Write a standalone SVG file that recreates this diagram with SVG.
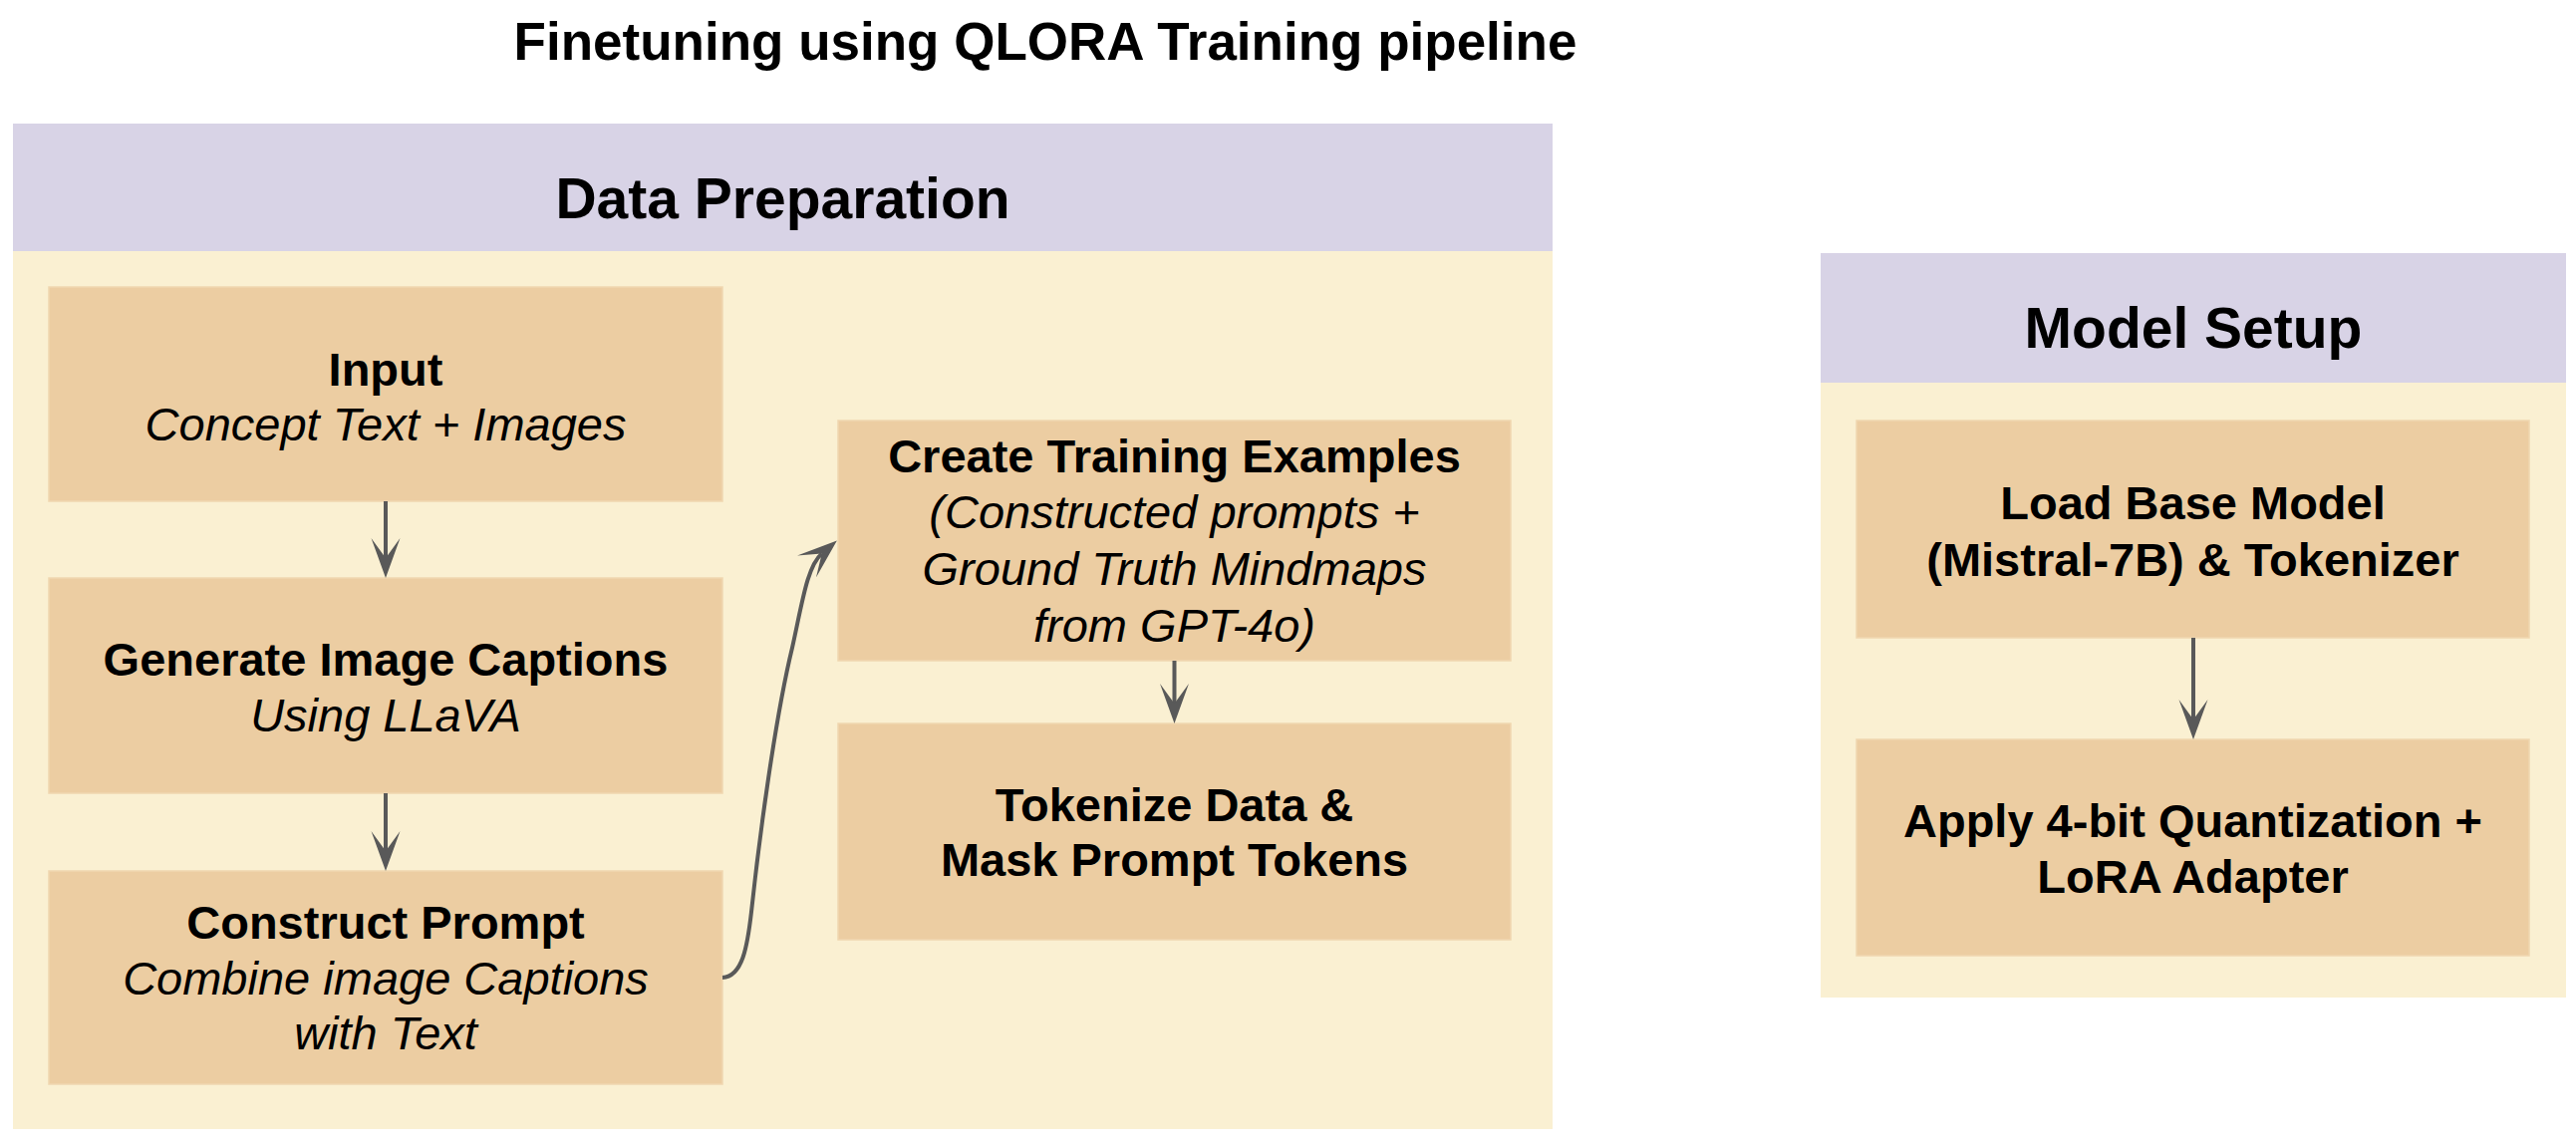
<svg xmlns="http://www.w3.org/2000/svg" width="2585" height="1150" viewBox="0 0 2585 1150">
  <style>
    .t { font-family: "Liberation Sans", Arial, sans-serif; fill: #000; text-anchor: middle; }
    .b { font-weight: bold; }
    .i { font-style: italic; }
    .title { font-size: 53px; }
    .hdr { font-size: 57px; }
    .n { font-size: 47px; }
    .header { fill: #d8d3e6; }
    .body { fill: #faf0d2; }
    .node { fill: #eccda2; stroke: #f0d6b0; stroke-width: 1.5; }
    .edge { fill: none; stroke: #595959; stroke-width: 4; }
  </style>
  <defs>
    <marker id="arr" markerUnits="userSpaceOnUse" viewBox="0 0 40 30" markerWidth="40" markerHeight="30" refX="20" refY="15" orient="auto">
      <path d="M0,0.5 L40,15 L0,29.5 L20,15 Z" fill="#595959"/>
    </marker>
  </defs>
  <rect width="2585" height="1150" fill="#ffffff"/>

  <text class="t b title" x="1049" y="60">Finetuning using QLORA Training pipeline</text>

  <g id="data-preparation">
    <rect class="body" x="13" y="124" width="1545" height="1009"/>
    <rect class="header" x="13" y="124" width="1545" height="128"/>
    <text class="t b hdr" x="785.5" y="219">Data Preparation</text>
  </g>

  <g id="model-setup">
    <rect class="body" x="1827" y="254" width="748" height="747"/>
    <rect class="header" x="1827" y="254" width="748" height="130"/>
    <text class="t b hdr" x="2201" y="349">Model Setup</text>
  </g>

  <g id="input">
    <rect class="node" x="49" y="288" width="676" height="215"/>
    <text class="t b n" x="387" y="387">Input</text>
    <text class="t i n" x="387" y="442">Concept Text + Images</text>
  </g>

  <g id="generate-captions">
    <rect class="node" x="49" y="580" width="676" height="216"/>
    <text class="t b n" x="387" y="678">Generate Image Captions</text>
    <text class="t i n" x="387" y="734">Using LLaVA</text>
  </g>

  <g id="construct-prompt">
    <rect class="node" x="49" y="874" width="676" height="214"/>
    <text class="t b n" x="387" y="942">Construct Prompt</text>
    <text class="t i n" x="387" y="998">Combine image Captions</text>
    <text class="t i n" x="387" y="1053">with Text</text>
  </g>

  <g id="create-examples">
    <rect class="node" x="841" y="422" width="675" height="241"/>
    <text class="t b n" x="1178.5" y="474">Create Training Examples</text>
    <text class="t i n" x="1178.5" y="530">(Constructed prompts +</text>
    <text class="t i n" x="1178.5" y="587">Ground Truth Mindmaps</text>
    <text class="t i n" x="1178.5" y="644">from GPT-4o)</text>
  </g>

  <g id="tokenize">
    <rect class="node" x="841" y="726" width="675" height="217"/>
    <text class="t b n" x="1178.5" y="824">Tokenize Data &amp;</text>
    <text class="t b n" x="1178.5" y="879">Mask Prompt Tokens</text>
  </g>

  <g id="load-model">
    <rect class="node" x="1863" y="422" width="675" height="218"/>
    <text class="t b n" x="2200.5" y="521">Load Base Model</text>
    <text class="t b n" x="2200.5" y="578">(Mistral-7B) &amp; Tokenizer</text>
  </g>

  <g id="apply-quantization">
    <rect class="node" x="1863" y="742" width="675" height="217"/>
    <text class="t b n" x="2200.5" y="840">Apply 4-bit Quantization +</text>
    <text class="t b n" x="2200.5" y="896">LoRA Adapter</text>
  </g>

  <g id="connectors">
    <path class="edge" d="M387,503 L387,560" marker-end="url(#arr)"/>
    <path class="edge" d="M387,796 L387,854" marker-end="url(#arr)"/>
    <path class="edge" d="M725,981 C745,980 750,950 754,915 C762,840 778,720 795,650 C805,605 810,568 824.7,555.4" marker-end="url(#arr)"/>
    <path class="edge" d="M1178.5,663 L1178.5,706" marker-end="url(#arr)"/>
    <path class="edge" d="M2201,640 L2201,722" marker-end="url(#arr)"/>
  </g>
</svg>
